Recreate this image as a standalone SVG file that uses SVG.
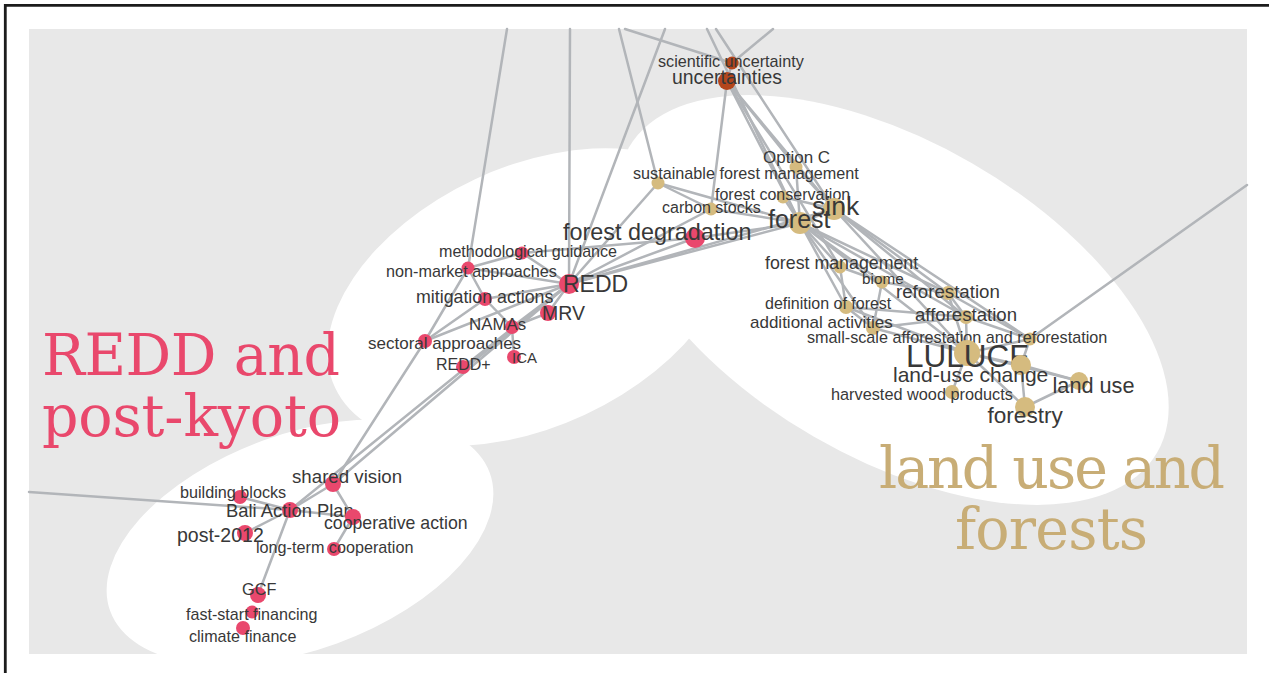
<svg xmlns="http://www.w3.org/2000/svg" width="1269" height="673" viewBox="0 0 1269 673">
<style>
.e{stroke:#b2b5b9;stroke-width:2.5;fill:none;stroke-linecap:round}
.l{font-family:"Liberation Sans",Arial,Helvetica,sans-serif;fill:#383838}
.p{fill:#e9486d}
.t{fill:#d5bb7f}
.b{fill:#b4461c}
.ti{font-family:"DejaVu Serif",serif;font-size:57px}
.blob{fill:#ffffff}
</style>
<rect x="0" y="0" width="1269" height="673" fill="#ffffff"/>
<line x1="4" y1="5.3" x2="1269" y2="5.3" stroke="#1c1c1c" stroke-width="2.8"/>
<line x1="5.3" y1="4" x2="5.3" y2="673" stroke="#1c1c1c" stroke-width="2.8"/>
<rect x="29" y="29" width="1218" height="625" fill="#e8e8e8"/>
<g id="regions">
<ellipse class="blob" cx="300" cy="542" rx="202" ry="108" transform="rotate(-20 300 542)"/>
<ellipse class="blob" cx="530" cy="297" rx="215" ry="130" transform="rotate(-25 530 297)"/>
<ellipse class="blob" cx="893" cy="300" rx="305" ry="158" transform="rotate(30 893 300)"/>
</g>
<g id="connectors">
<line class="e" x1="507" y1="29" x2="468" y2="268"/>
<line class="e" x1="570" y1="29" x2="569" y2="284"/>
<line class="e" x1="619" y1="29" x2="658" y2="183"/>
<line class="e" x1="625" y1="29" x2="732" y2="63"/>
<line class="e" x1="665" y1="29" x2="569" y2="284"/>
<line class="e" x1="707" y1="29" x2="800" y2="223"/>
<line class="e" x1="716" y1="29" x2="834" y2="209"/>
<line class="e" x1="773" y1="29" x2="732" y2="63"/>
<line class="e" x1="727" y1="81" x2="732" y2="63"/>
<line class="e" x1="727" y1="81" x2="711" y2="209"/>
<line class="e" x1="727" y1="81" x2="800" y2="223"/>
<line class="e" x1="727" y1="81" x2="834" y2="209"/>
<line class="e" x1="727" y1="81" x2="796" y2="167"/>
<line class="e" x1="727" y1="81" x2="840" y2="267"/>
<line class="e" x1="658" y1="183" x2="711" y2="209"/>
<line class="e" x1="658" y1="183" x2="800" y2="223"/>
<line class="e" x1="658" y1="183" x2="569" y2="284"/>
<line class="e" x1="711" y1="209" x2="800" y2="223"/>
<line class="e" x1="711" y1="209" x2="569" y2="284"/>
<line class="e" x1="783" y1="197" x2="800" y2="223"/>
<line class="e" x1="783" y1="197" x2="834" y2="209"/>
<line class="e" x1="796" y1="167" x2="800" y2="223"/>
<line class="e" x1="796" y1="167" x2="834" y2="209"/>
<line class="e" x1="800" y1="223" x2="834" y2="209"/>
<line class="e" x1="695" y1="238" x2="800" y2="223"/>
<line class="e" x1="695" y1="238" x2="569" y2="284"/>
<line class="e" x1="569" y1="284" x2="800" y2="223"/>
<line class="e" x1="569" y1="284" x2="834" y2="209"/>
<line class="e" x1="522" y1="253" x2="695" y2="238"/>
<line class="e" x1="800" y1="223" x2="840" y2="267"/>
<line class="e" x1="800" y1="223" x2="882" y2="282"/>
<line class="e" x1="800" y1="223" x2="948" y2="293"/>
<line class="e" x1="800" y1="223" x2="966" y2="317"/>
<line class="e" x1="800" y1="223" x2="967" y2="353"/>
<line class="e" x1="800" y1="223" x2="846" y2="307"/>
<line class="e" x1="800" y1="223" x2="873" y2="328"/>
<line class="e" x1="834" y1="209" x2="948" y2="293"/>
<line class="e" x1="834" y1="209" x2="966" y2="317"/>
<line class="e" x1="834" y1="209" x2="967" y2="353"/>
<line class="e" x1="834" y1="209" x2="1030" y2="339"/>
<line class="e" x1="840" y1="267" x2="882" y2="282"/>
<line class="e" x1="840" y1="267" x2="846" y2="307"/>
<line class="e" x1="882" y1="282" x2="948" y2="293"/>
<line class="e" x1="882" y1="282" x2="873" y2="328"/>
<line class="e" x1="846" y1="307" x2="873" y2="328"/>
<line class="e" x1="846" y1="307" x2="967" y2="353"/>
<line class="e" x1="846" y1="307" x2="966" y2="317"/>
<line class="e" x1="873" y1="328" x2="967" y2="353"/>
<line class="e" x1="873" y1="328" x2="966" y2="317"/>
<line class="e" x1="948" y1="293" x2="966" y2="317"/>
<line class="e" x1="948" y1="293" x2="1030" y2="339"/>
<line class="e" x1="948" y1="293" x2="967" y2="353"/>
<line class="e" x1="966" y1="317" x2="967" y2="353"/>
<line class="e" x1="966" y1="317" x2="1030" y2="339"/>
<line class="e" x1="967" y1="353" x2="1030" y2="339"/>
<line class="e" x1="967" y1="353" x2="1021" y2="365"/>
<line class="e" x1="967" y1="353" x2="1025" y2="407"/>
<line class="e" x1="967" y1="353" x2="952" y2="392"/>
<line class="e" x1="967" y1="353" x2="1079" y2="381"/>
<line class="e" x1="1021" y1="365" x2="1079" y2="381"/>
<line class="e" x1="1021" y1="365" x2="1025" y2="407"/>
<line class="e" x1="1025" y1="407" x2="1079" y2="381"/>
<line class="e" x1="1030" y1="339" x2="1247" y2="185"/>
<line class="e" x1="1030" y1="339" x2="1021" y2="365"/>
<line class="e" x1="569" y1="284" x2="522" y2="253"/>
<line class="e" x1="569" y1="284" x2="468" y2="268"/>
<line class="e" x1="569" y1="284" x2="485" y2="299"/>
<line class="e" x1="569" y1="284" x2="548" y2="313"/>
<line class="e" x1="569" y1="284" x2="512" y2="327"/>
<line class="e" x1="569" y1="284" x2="463" y2="367"/>
<line class="e" x1="569" y1="284" x2="425" y2="341"/>
<line class="e" x1="548" y1="313" x2="512" y2="327"/>
<line class="e" x1="485" y1="299" x2="512" y2="327"/>
<line class="e" x1="485" y1="299" x2="468" y2="268"/>
<line class="e" x1="485" y1="299" x2="425" y2="341"/>
<line class="e" x1="522" y1="253" x2="468" y2="268"/>
<line class="e" x1="468" y1="268" x2="425" y2="341"/>
<line class="e" x1="425" y1="341" x2="333" y2="484"/>
<line class="e" x1="512" y1="327" x2="514" y2="357"/>
<line class="e" x1="569" y1="284" x2="333" y2="484"/>
<line class="e" x1="569" y1="284" x2="290" y2="510"/>
<line class="e" x1="29" y1="492" x2="290" y2="510"/>
<line class="e" x1="240" y1="497" x2="290" y2="510"/>
<line class="e" x1="290" y1="510" x2="333" y2="484"/>
<line class="e" x1="290" y1="510" x2="353" y2="517"/>
<line class="e" x1="290" y1="510" x2="245" y2="533"/>
<line class="e" x1="290" y1="510" x2="258" y2="595"/>
<line class="e" x1="333" y1="484" x2="353" y2="517"/>
<line class="e" x1="353" y1="517" x2="334" y2="549"/>
</g>
<g id="node-scientific-uncertainty"><circle class="b" cx="732" cy="63" r="6.5"/><text class="l" x="658" y="67" font-size="16.2">scientific uncertainty</text></g>
<g id="node-uncertainties"><circle class="b" cx="727" cy="81" r="9"/><text class="l" x="672" y="84" font-size="19.4">uncertainties</text></g>
<g id="node-option-c"><circle class="t" cx="796" cy="167" r="6.5"/><text class="l" x="763" y="163" font-size="17">Option C</text></g>
<g id="node-sustainable-forest-management"><circle class="t" cx="658" cy="183" r="6.5"/><text class="l" x="633" y="179" font-size="16.2">sustainable forest management</text></g>
<g id="node-forest-conservation"><circle class="t" cx="783" cy="197" r="6.5"/><text class="l" x="715" y="200" font-size="16">forest conservation</text></g>
<g id="node-carbon-stocks"><circle class="t" cx="711" cy="209" r="6.5"/><text class="l" x="662" y="213" font-size="16">carbon stocks</text></g>
<g id="node-sink"><circle class="t" cx="834" cy="209" r="11"/><text class="l" x="812" y="215" font-size="26.5">sink</text></g>
<g id="node-forest"><circle class="t" cx="800" cy="223" r="11"/><text class="l" x="768" y="228" font-size="25">forest</text></g>
<g id="node-forest-management"><circle class="t" cx="840" cy="267" r="6.5"/><text class="l" x="765" y="269" font-size="17.8">forest management</text></g>
<g id="node-biome"><circle class="t" cx="882" cy="282" r="6.5"/><text class="l" x="862" y="283.5" font-size="15.3">biome</text></g>
<g id="node-reforestation"><circle class="t" cx="948" cy="293" r="7"/><text class="l" x="896" y="298" font-size="18.7">reforestation</text></g>
<g id="node-definition-of-forest"><circle class="t" cx="846" cy="307" r="7"/><text class="l" x="765" y="308.5" font-size="16">definition of forest</text></g>
<g id="node-additional-activities"><circle class="t" cx="873" cy="328" r="7"/><text class="l" x="750" y="327.5" font-size="17">additional activities</text></g>
<g id="node-afforestation"><circle class="t" cx="966" cy="317" r="7"/><text class="l" x="915" y="321" font-size="18.6">afforestation</text></g>
<g id="node-small-scale"><circle class="t" cx="1030" cy="339" r="6.5"/><text class="l" x="807" y="342.5" font-size="16.2">small-scale afforestation and reforestation</text></g>
<g id="node-lulucf"><circle class="t" cx="967" cy="353" r="13"/><text class="l" x="906" y="367" font-size="31.5">LULUCF</text></g>
<g id="node-land-use-change"><circle class="t" cx="1021" cy="365" r="10"/><text class="l" x="893" y="381.5" font-size="21">land-use change</text></g>
<g id="node-land-use"><circle class="t" cx="1079" cy="381" r="9"/><text class="l" x="1052.5" y="392.5" font-size="21.7">land use</text></g>
<g id="node-harvested-wood-products"><circle class="t" cx="952" cy="392" r="7"/><text class="l" x="831" y="400" font-size="16.3">harvested wood products</text></g>
<g id="node-forestry"><circle class="t" cx="1025" cy="407" r="10"/><text class="l" x="987.5" y="423.3" font-size="22.6">forestry</text></g>
<g id="node-forest-degradation"><circle class="p" cx="695" cy="238" r="10"/><text class="l" x="563" y="240" font-size="23.4">forest degradation</text></g>
<g id="node-methodological-guidance"><circle class="p" cx="522" cy="253" r="6.5"/><text class="l" x="439" y="257" font-size="16.1">methodological guidance</text></g>
<g id="node-non-market-approaches"><circle class="p" cx="468" cy="268" r="6.5"/><text class="l" x="386" y="277" font-size="16.2">non-market approaches</text></g>
<g id="node-redd"><circle class="p" cx="569" cy="284" r="10"/><text class="l" x="563" y="291.5" font-size="23">REDD</text></g>
<g id="node-mitigation-actions"><circle class="p" cx="485" cy="299" r="7"/><text class="l" x="416" y="302.5" font-size="17.8">mitigation actions</text></g>
<g id="node-mrv"><circle class="p" cx="548" cy="313" r="8"/><text class="l" x="542" y="320" font-size="19.5">MRV</text></g>
<g id="node-namas"><circle class="p" cx="512" cy="327" r="7"/><text class="l" x="469" y="330" font-size="16.9">NAMAs</text></g>
<g id="node-sectoral-approaches"><circle class="p" cx="425" cy="341" r="7"/><text class="l" x="368" y="348.5" font-size="17">sectoral approaches</text></g>
<g id="node-ica"><circle class="p" cx="514" cy="357" r="7"/><text class="l" x="512" y="363" font-size="15">ICA</text></g>
<g id="node-redd-plus"><circle class="p" cx="463" cy="367" r="7"/><text class="l" x="436" y="370" font-size="16">REDD+</text></g>
<g id="node-shared-vision"><circle class="p" cx="333" cy="484" r="8"/><text class="l" x="292" y="482.7" font-size="18.7">shared vision</text></g>
<g id="node-building-blocks"><circle class="p" cx="240" cy="497" r="7"/><text class="l" x="180" y="498.3" font-size="16.2">building blocks</text></g>
<g id="node-bali-action-plan"><circle class="p" cx="290" cy="510" r="8"/><text class="l" x="226" y="516.7" font-size="18.4">Bali Action Plan</text></g>
<g id="node-cooperative-action"><circle class="p" cx="353" cy="517" r="8"/><text class="l" x="324" y="529.3" font-size="17.7">cooperative action</text></g>
<g id="node-post-2012"><circle class="p" cx="245" cy="533" r="8"/><text class="l" x="177" y="541.7" font-size="19.5">post-2012</text></g>
<g id="node-long-term-cooperation"><circle class="p" cx="334" cy="549" r="7"/><text class="l" x="256" y="553.3" font-size="16.2">long-term cooperation</text></g>
<g id="node-gcf"><circle class="p" cx="258" cy="595" r="8"/><text class="l" x="242" y="595" font-size="16.3">GCF</text></g>
<g id="node-fast-start-financing"><circle class="p" cx="252" cy="612" r="6.5"/><text class="l" x="186" y="620" font-size="16.1">fast-start financing</text></g>
<g id="node-climate-finance"><circle class="p" cx="243" cy="628" r="7"/><text class="l" x="189" y="641.7" font-size="16.1">climate finance</text></g>
<g id="region-labels">
<text class="ti" x="42" y="375" fill="#e9486c" textLength="298">REDD and</text>
<text class="ti" x="42" y="436" fill="#e9486c" textLength="299">post-kyoto</text>
<text class="ti" x="879" y="488" fill="#c8ad76" textLength="346">land use and</text>
<text class="ti" x="955" y="549" fill="#c8ad76" textLength="193">forests</text>
</g>
</svg>
